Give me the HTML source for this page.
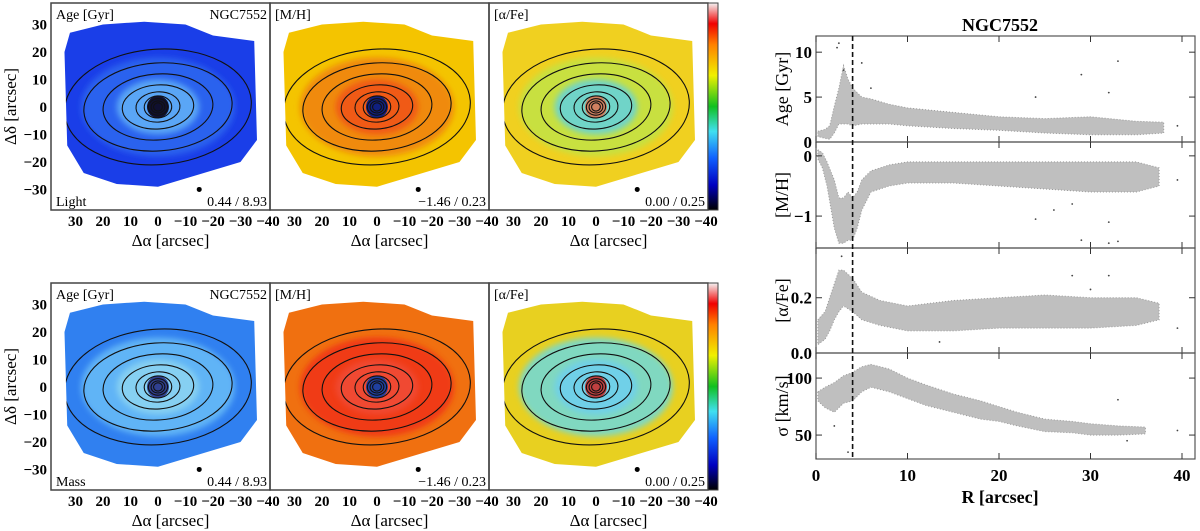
<!DOCTYPE html>
<html><head><meta charset="utf-8"><style>
html,body{margin:0;padding:0;background:#fff}
svg{display:block;font-family:"Liberation Serif",serif}
</style></head><body>
<svg id="fig" width="1200" height="531" viewBox="0 0 1200 531" xmlns="http://www.w3.org/2000/svg">
<defs>
<linearGradient id="cbar" x1="0" y1="1" x2="0" y2="0">
<stop offset="0" stop-color="#000"/><stop offset="0.12" stop-color="#0000c0"/><stop offset="0.25" stop-color="#1060ff"/><stop offset="0.38" stop-color="#40e0f0"/><stop offset="0.5" stop-color="#10c020"/><stop offset="0.65" stop-color="#f0f000"/><stop offset="0.8" stop-color="#ff8000"/><stop offset="0.9" stop-color="#f00000"/><stop offset="1" stop-color="#f4f4f4"/>
</linearGradient>
<filter id="blur"><feGaussianBlur stdDeviation="3"/></filter>
</defs>
<g id="maps"></g>
<g id="prof"></g>
</svg>
<script>
// ---- radial profile data: R, lower, upper envelope of scatter cloud
const ageR=[0.2,1,1.5,2,2.5,3,3.5,4,5,6,8,10,15,20,25,30,35,38];
const ageLo=[0.6,0.4,0.3,1,2,2,2,1.8,2,2,2,1.8,1.5,1.3,1,0.8,0.8,1];
const ageHi=[1.2,1.4,1.8,4,6,8.5,7,6,5,4.8,4.2,3.8,3.3,2.8,2.6,2.8,2.3,2.2];
const ageOutR=[2.3,2.5,3,5,6,29,33,32,24,39.5];
const ageOutV=[10.5,11,8,8.8,6,7.5,9,5.5,5,1.8];
const mhR=[0.2,0.7,1.2,2,2.5,3,3.5,4,4.5,5,6,8,10,15,20,25,30,35,37.5];
const mhLo=[-0.05,-0.2,-0.5,-1.2,-1.45,-1.45,-1.4,-1.4,-1.2,-0.9,-0.6,-0.5,-0.45,-0.45,-0.5,-0.55,-0.6,-0.6,-0.5];
const mhHi=[0.1,0.05,-0.1,-0.4,-0.7,-0.7,-0.6,-0.7,-0.6,-0.4,-0.25,-0.15,-0.1,-0.1,-0.1,-0.1,-0.1,-0.1,-0.2];
const mhOutR=[24,29,32,32,33,26,28,39.5];
const mhOutV=[-1.05,-1.4,-1.1,-1.45,-1.42,-0.9,-0.8,-0.4];
const afR=[0.2,1,1.5,2,2.5,3,4,5,7,10,15,20,25,30,35,37.5];
const afLo=[0.03,0.05,0.08,0.12,0.15,0.17,0.15,0.12,0.1,0.08,0.08,0.09,0.09,0.09,0.1,0.12];
const afHi=[0.12,0.15,0.2,0.25,0.3,0.3,0.27,0.22,0.19,0.17,0.19,0.2,0.21,0.2,0.2,0.18];
const afOutR=[28,32,39.5,2.8,13.5,30];
const afOutV=[0.28,0.28,0.09,0.35,0.04,0.23];
const sgR=[0.2,1,2,3,4,5,6,8,10,12,15,18,20,22,25,28,30,33,36];
const sgLo=[80,74,70,78,80,88,92,88,82,76,70,64,62,58,53,52,50,50,51];
const sgHi=[88,92,96,102,105,110,112,108,100,94,86,80,75,70,64,62,60,58,57];
const sgOutR=[2,3.5,4,33,34,39.5];
const sgOutV=[58,35,47,81,45,54];
const xTicks=[0,10,20,30,40];

const NS="http://www.w3.org/2000/svg";
function mk(tag,attrs,parent,txt){const e=document.createElementNS(NS,tag);for(const k in attrs)e.setAttribute(k,attrs[k]);if(txt!==undefined)e.textContent=txt;parent.appendChild(e);return e;}

// ---- right profile panels
const prof=document.getElementById('prof');
const PX0=816,PX1=1195;
const xs=r=>PX0+(r-0)*(1182-PX0)/40;
const panels=[
 {name:'age',top:36,bot:142,vmin:0,vmax:11.8,ticks:[0,5,10],tl:['0','5','10'],label:'Age [Gyr]',R:ageR,lo:ageLo,hi:ageHi,oR:ageOutR,oV:ageOutV},
 {name:'metallicity',top:142,bot:248,vmin:-1.53,vmax:0.23,ticks:[-1,0],tl:['\u22121','0'],label:'[M/H]',R:mhR,lo:mhLo,hi:mhHi,oR:mhOutR,oV:mhOutV},
 {name:'alpha-fe',top:248,bot:353,vmin:0,vmax:0.38,ticks:[0,0.2],tl:['0.0','0.2'],label:'[\u03b1/Fe]',R:afR,lo:afLo,hi:afHi,oR:afOutR,oV:afOutV},
 {name:'sigma',top:353,bot:459,vmin:29,vmax:122,ticks:[50,100],tl:['50','100'],label:'\u03c3 [km/s]',R:sgR,lo:sgLo,hi:sgHi,oR:sgOutR,oV:sgOutV}
];
panels.forEach((p,i)=>{
 const g=mk('g',{},prof);
 
 
 const ys=v=>p.bot-(v-p.vmin)/(p.vmax-p.vmin)*(p.bot-p.top);
 let d='M'+p.R.map((r,k)=>xs(r).toFixed(1)+','+ys(p.hi[k]).toFixed(1)).join('L');
 for(let k=p.R.length-1;k>=0;k--)d+='L'+xs(p.R[k]).toFixed(1)+','+ys(p.lo[k]).toFixed(1);
 d+='Z';
 const band=mk('path',{d:d,fill:'#8a8a8a','fill-opacity':'0.55',stroke:'#999','stroke-width':'1','stroke-dasharray':'1 2'},g);
 
 
 p.oR.forEach((r,k)=>{
  const c=mk('circle',{cx:xs(r),cy:ys(p.oV[k]),r:0.9,fill:'#444'},g);
  
  
 });
 const fr=mk('rect',{x:PX0,y:p.top,width:PX1-PX0,height:p.bot-p.top,fill:'none',stroke:'#555','stroke-width':'1.2'},g);
 
 
 p.ticks.forEach((t,k)=>{
  mk('line',{x1:PX0,x2:PX0+6,y1:ys(t),y2:ys(t),stroke:'#333'},g);
  mk('line',{x1:PX1,x2:PX1-6,y1:ys(t),y2:ys(t),stroke:'#333'},g);
  const tl=mk('text',{x:PX0-4,y:ys(t)+6,'text-anchor':'end','font-size':'17','font-weight':'bold'},g,p.tl[k]);
  
  
 });
 xTicks.forEach(t=>{
  mk('line',{x1:xs(t),x2:xs(t),y1:p.bot,y2:p.bot-6,stroke:'#333'},g);
  mk('line',{x1:xs(t),x2:xs(t),y1:p.top,y2:p.top+6,stroke:'#333'},g);
 });
 const yl=mk('text',{x:0,y:0,transform:`translate(788,${(p.top+p.bot)/2}) rotate(-90)`,'text-anchor':'middle','font-size':'18'},g,p.label);
 
 
});
const dl=mk('line',{x1:xs(4),x2:xs(4),y1:36,y2:459,stroke:'#111','stroke-width':'1.6','stroke-dasharray':'5 3'},prof);


xTicks.forEach(t=>{
 const e=mk('text',{x:xs(t),y:481,'text-anchor':'middle','font-size':'17','font-weight':'bold'},prof,String(t));
 
 
});
let e=mk('text',{x:1000,y:503,'text-anchor':'middle','font-size':'18','font-weight':'bold'},prof,'R [arcsec]');


e=mk('text',{x:1000,y:31,'text-anchor':'middle','font-size':'18','font-weight':'bold'},prof,'NGC7552');



// ---- maps
const maps=document.getElementById('maps');
const mapXT=[30,20,10,0,-10,-20,-30,-40];
const mapXTL=['30','20','10','0','\u221210','\u221220','\u221230','\u221240'];
const mapYT=[30,20,10,0,-10,-20,-30];
const mapYTL=['30','20','10','0','\u221210','\u221220','\u221230'];
const pal=[
 [['#1a3ee8','#2a62ee','#5aa6f6','#101030'],['#3080f0','#60b4f6','#86d0f2','#304090']],
 [['#f4c400','#f08a10','#f05a12','#102080'],['#f07010','#f03a12','#f04a30','#2040a0']],
 [['#f0d020','#c8e040','#70d4c8','#d08060'],['#e8d020','#80d8c0','#70d0e8','#c04040']]
];
const titles=['Age [Gyr]','[M/H]','[\u03b1/Fe]'];
const ranges=['0.44 / 8.93','\u22121.46 / 0.23','0.00 / 0.25'];
const cols=[51,270,489], rows=[3,283], W=219, H=207;
rows.forEach((py,ri)=>{
 cols.forEach((px,ci)=>{
  const g=mk('g',{},maps);
  
  
  const X=x=>px+(38.9-x)*2.75, Y=y=>py+(37.8-y)*2.75;
  const c=pal[ci][ri];
  const id='clip'+ri+ci;
  const cp=mk('clipPath',{id:id},g);
  mk('path',{d:`M${X(34)},${Y(20)}L${X(32)},${Y(27)}L${X(20)},${Y(30)}L${X(5)},${Y(31)}L${X(-10)},${Y(30)}L${X(-20)},${Y(26)}L${X(-35)},${Y(24)}L${X(-36)},${Y(-12)}L${X(-30)},${Y(-20)}L${X(-10)},${Y(-26)}L${X(0)},${Y(-29)}L${X(15)},${Y(-28)}L${X(27)},${Y(-24)}L${X(33)},${Y(-14)}Z`},cp);
  const cg=mk('g',{'clip-path':`url(#${id})`},g);
  mk('rect',{x:X(40),y:Y(35),width:W,height:H,fill:c[0]},cg);
  mk('ellipse',{cx:X(0),cy:Y(0),rx:28*2.75,ry:18*2.75,fill:c[1],filter:'url(#blur)'},cg);
  mk('ellipse',{cx:X(0),cy:Y(0),rx:15*2.75,ry:10*2.75,fill:c[2],filter:'url(#blur)'},cg);
  mk('ellipse',{cx:X(0),cy:Y(0),rx:4*2.75,ry:4*2.75,fill:c[3]},cg);
  [[34,21],[27,16],[20,12],[13,8],[8,5.5],[5,4],[3.5,3],[2.5,2.2],[1.6,1.5]].forEach(a=>{
   const ct=mk('ellipse',{cx:X(0),cy:Y(0),rx:a[0]*2.75,ry:a[1]*2.75,fill:'none',stroke:'#111','stroke-width':'1.1',transform:`rotate(-4 ${X(0)} ${Y(0)})`},cg);
   
   
  });
  mk('circle',{cx:X(-15),cy:Y(-30),r:2.5,fill:'#000'},g);
  const fr=mk('rect',{x:px,y:py,width:W,height:H,fill:'none',stroke:'#444','stroke-width':'1.5'},g);
  
  
  let t=mk('text',{x:px+5,y:py+16,'font-size':'14'},g,titles[ci]);
  
  
  if(ci===0){
   t=mk('text',{x:px+W-3,y:py+16,'font-size':'14','text-anchor':'end'},g,'NGC7552');
   
   
   t=mk('text',{x:px+5,y:py+H-4,'font-size':'14'},g,ri?'Mass':'Light');
   
   
  }
  t=mk('text',{x:px+W-3,y:py+H-4,'font-size':'14','text-anchor':'end'},g,ranges[ci]);
  
  
  mapXT.forEach((v,k)=>{
   const tl=mk('text',{x:X(v),y:py+H+16,'text-anchor':'middle','font-size':'15','font-weight':'bold'},g,mapXTL[k]);
   
   
  });
  t=mk('text',{x:px+W/2+10,y:py+H+36,'text-anchor':'middle','font-size':'17'},g,'\u0394\u03b1 [arcsec]');
  
  
  if(ci===0){
   mapYT.forEach((v,k)=>{
    const tl=mk('text',{x:px-4,y:Y(v)+5,'text-anchor':'end','font-size':'15','font-weight':'bold'},g,mapYTL[k]);
    
    
   });
   t=mk('text',{x:0,y:0,transform:`translate(16,${py+H/2}) rotate(-90)`,'text-anchor':'middle','font-size':'17'},g,'\u0394\u03b4 [arcsec]');
   
   
  }
 });
 const cb=mk('rect',{x:708,y:py,width:10,height:H,fill:'url(#cbar)',stroke:'#444','stroke-width':'1'},maps);
 
 
});
</script>
</body></html>
